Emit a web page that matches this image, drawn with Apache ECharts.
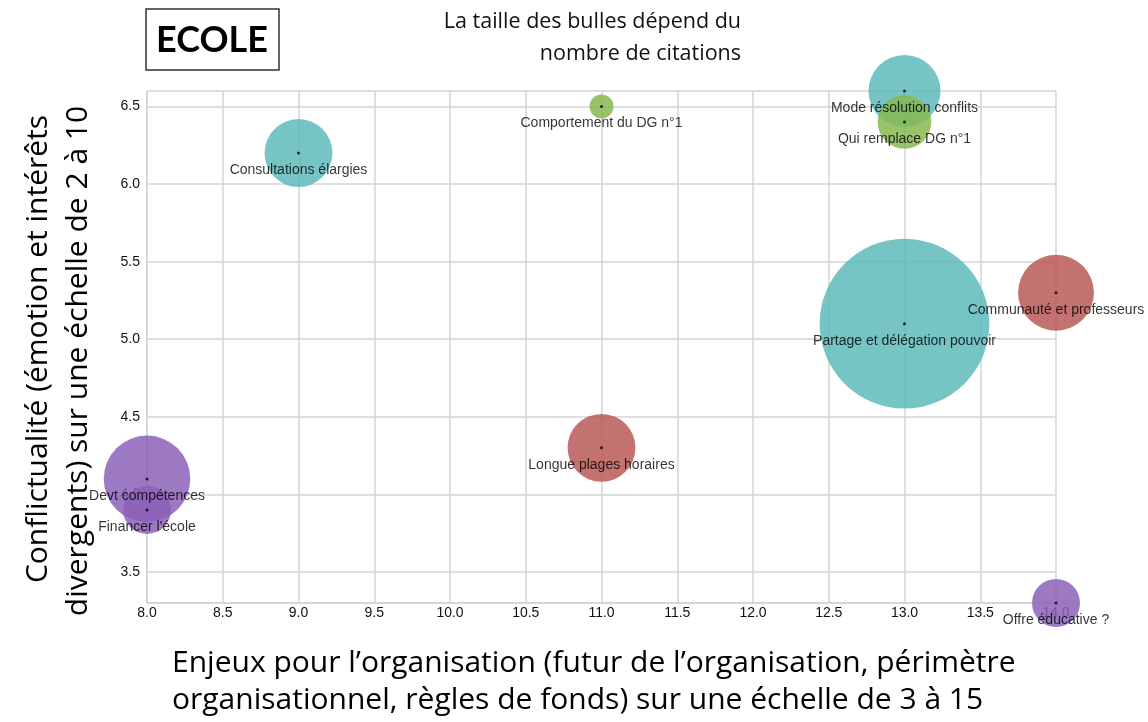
<!DOCTYPE html>
<html>
<head>
<meta charset="utf-8">
<title>ECOLE</title>
<script src="https://cdn.jsdelivr.net/npm/echarts@6/dist/echarts.min.js"></script>
<style>
	html,body{margin:0;padding:0;background:#fff;}
	#bubbles{width:1148px;height:722px;}
</style>
</head>
<body>
<div id="bubbles"></div>
<script>
	// un point par thème, dans l'ordre de dessin
	var themes = ['Consultations élargies','Comportement du DG n°1','Mode résolution conflits','Qui remplace DG n°1',
		'Partage et délégation pouvoir','Communauté et professeurs','Longue plages horaires',
		'Devt compétences','Financer l\'école','Offre éducative ?'];
	var enjeux = [9, 11, 13, 13, 13, 14, 11, 8, 8, 14];
	var conflit = [6.2, 6.5, 6.6, 6.4, 5.1, 5.3, 4.3, 4.1, 3.9, 3.3];
	var citations = [8, 1, 9, 5, 50, 10, 8, 13, 4, 4];
	var groupe = [0, 1, 0, 1, 0, 2, 2, 3, 3, 3];
	var couleurs = ['#5ebbba', '#86b951', '#b95957', '#8c62ba'];

	var labelFont = '"Liberation Sans", Arial, sans-serif';
	var titleFont = '"Open Sans", Lato, sans-serif';

	var points = [];
	for (var i = 0; i < themes.length; i++) {
		points.push([enjeux[i], conflit[i], citations[i], themes[i]]);
	}

	var myChart = echarts.init(document.getElementById('bubbles'));
	var option = {
		animation: false,
		grid: { left: 147, right: 92, top: 91, bottom: 119 },
		xAxis: {
			type: 'value',
			min: 8,
			max: 14,
			interval: 0.5,
			axisLine: { show: true, lineStyle: { color: '#d4d4d4', width: 1.5 } },
			axisTick: { show: false },
			axisLabel: {
				margin: 3,
				color: '#111',
				fontSize: 14,
				fontFamily: labelFont,
				formatter: function (v) { return v.toFixed(1); }
			},
			splitLine: { show: true, lineStyle: { color: '#d4d4d4', width: 1.5 } }
		},
		yAxis: {
			type: 'value',
			min: 3.3,
			max: 6.6,
			minInterval: 0.5,
			maxInterval: 0.5,
			axisLine: { show: true, lineStyle: { color: '#d4d4d4', width: 1.5 } },
			axisTick: { show: false },
			axisLabel: {
				margin: 7,
				color: '#111',
				fontSize: 14,
				fontFamily: labelFont,
				showMinLabel: false,
				showMaxLabel: false,
				formatter: function (v) { return v.toFixed(1); }
			},
			splitLine: { show: true, lineStyle: { color: '#d4d4d4', width: 1.5 } }
		},
		series: [
			{
				// bulles : surface proportionnelle au nombre de citations
				type: 'scatter',
				clip: false,
				silent: true,
				data: points,
				symbolSize: function (val) { return 24 * Math.sqrt(val[2]); },
				itemStyle: {
					opacity: 0.85,
					color: function (p) { return couleurs[groupe[p.dataIndex]]; }
				}
			},
			{
				// point central + libellé
				type: 'scatter',
				clip: false,
				silent: true,
				data: points,
				symbolSize: 3,
				itemStyle: { color: '#000' },
				label: {
					show: true,
					position: 'inside',
					offset: [0, 17],
					color: '#000',
					fontSize: 14,
					fontFamily: labelFont,
					formatter: function (p) { return p.data[3]; }
				}
			}
		],
		graphic: [
			{
				type: 'rect',
				shape: { x: 146, y: 9, width: 133, height: 61 },
				style: { fill: '#fff', stroke: '#333', lineWidth: 1.5 }
			},
			{
				type: 'text',
				x: 212, y: 40,
				style: { text: 'ECOLE', fill: '#000', font: 'bold 36px Lato, sans-serif', textAlign: 'center', textVerticalAlign: 'middle' }
			},
			{
				type: 'text',
				x: 741, y: 22,
				style: { text: 'La taille des bulles dépend du', fill: '#111', font: '21.5px ' + titleFont, textAlign: 'right', textVerticalAlign: 'middle' }
			},
			{
				type: 'text',
				x: 741, y: 54,
				style: { text: 'nombre de citations', fill: '#111', font: '21.5px ' + titleFont, textAlign: 'right', textVerticalAlign: 'middle' }
			},
			{
				type: 'text',
				x: 38, y: 349, rotation: Math.PI / 2,
				style: { text: 'Conflictualité (émotion et intérêts', fill: '#000', font: '30px ' + titleFont, textAlign: 'center', textVerticalAlign: 'middle' }
			},
			{
				type: 'text',
				x: 78, y: 361, rotation: Math.PI / 2,
				style: { text: 'divergents) sur une échelle de 2 à 10', fill: '#000', font: '30px ' + titleFont, textAlign: 'center', textVerticalAlign: 'middle' }
			},
			{
				type: 'text',
				x: 172, y: 663,
				style: { text: 'Enjeux pour l’organisation (futur de l’organisation, périmètre', fill: '#000', font: '30px ' + titleFont, textAlign: 'left', textVerticalAlign: 'middle' }
			},
			{
				type: 'text',
				x: 172, y: 700,
				style: { text: 'organisationnel, règles de fonds) sur une échelle de 3 à 15', fill: '#000', font: '30px ' + titleFont, textAlign: 'left', textVerticalAlign: 'middle' }
			}
		]
	};
	myChart.setOption(option);
	window.addEventListener('resize', function () {
		myChart.resize();
	});
</script>
</body>
</html>
